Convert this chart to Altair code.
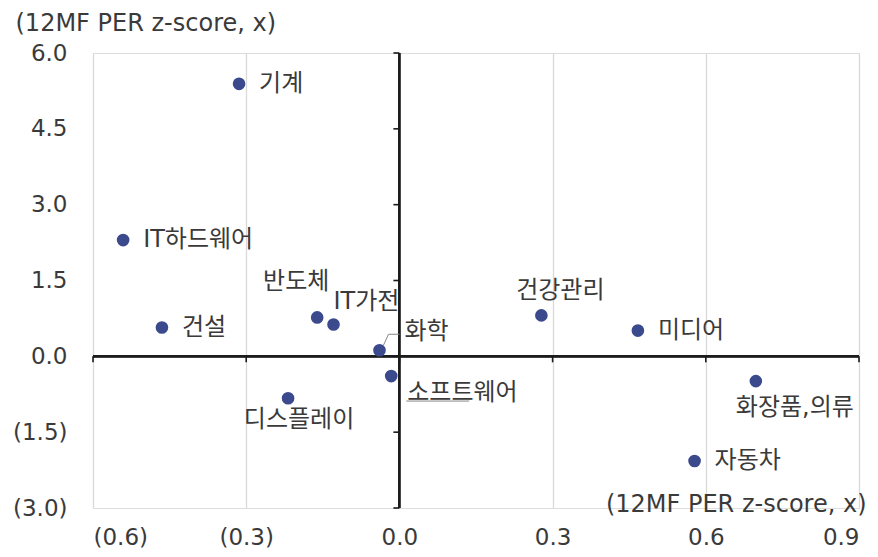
import altair as alt
import pandas as pd

# Data
sectors = ["기계", "IT하드웨어", "건설", "반도체", "IT가전", "화학", "소프트웨어",
           "디스플레이", "건강관리", "미디어", "화장품,의류", "자동차"]
x_vals = [-0.314, -0.541, -0.465, -0.161, -0.129, -0.039, -0.016,
          -0.218, 0.278, 0.467, 0.698, 0.578]
y_vals = [5.39, 2.30, 0.57, 0.77, 0.63, 0.12, -0.39,
          -0.83, 0.81, 0.51, -0.49, -2.07]

x_ticks = [-0.6, -0.3, 0.0, 0.3, 0.6, 0.9]
y_ticks = [-3.0, -1.5, 0.0, 1.5, 3.0, 4.5, 6.0]
axis_title = "(12MF PER z-score, x)"

# label placement (pixel offsets from the point)
label_dx = [20, 20, 20, -21, 0, 25, 16, 11, 19, 20, 39, 20]
label_dy = [0, 0, 0, -35, -22, -18, 17, 22, -24, 0, 27, 0]
label_align = ["left", "left", "left", "center", "left", "left", "left",
               "center", "center", "left", "center", "left"]

df = pd.DataFrame({"sector": sectors, "x": x_vals, "y": y_vals})
xt = pd.DataFrame({"v": x_ticks})
yt = pd.DataFrame({"v": y_ticks})

FONT = "DejaVu Sans, Noto Sans CJK KR, sans-serif"
FS = 23
TXT = "#3a3a3a"
PT = "#3b4a8c"

xscale = alt.Scale(domain=[x_ticks[0], x_ticks[-1]], nice=False, zero=False)
yscale = alt.Scale(domain=[y_ticks[0], y_ticks[-1]], nice=False, zero=False)

fmt = "datum.value < 0 ? '(' + format(-datum.value, '.1f') + ')' : format(datum.value, '.1f')"

base = alt.Chart(df)

points = base.mark_point(filled=True, size=160, opacity=1, color=PT).encode(
    x=alt.X("x:Q", scale=xscale,
            axis=alt.Axis(values=x_ticks, labelExpr=fmt, grid=True, gridColor="#d9d9d9",
                          gridWidth=1.3, domain=False, ticks=False, tickSize=0,
                          labelPadding=18, labelFont=FONT, labelFontSize=FS,
                          labelColor=TXT, title=axis_title, titleFont=FONT,
                          titleFontSize=24, titleFontWeight="normal", titleColor=TXT,
                          titleAlign="right", titleBaseline="middle",
                          titleX=773, titleY=-4)),
    y=alt.Y("y:Q", scale=yscale,
            axis=alt.Axis(values=y_ticks, labelExpr=fmt, grid=False, domain=False,
                          ticks=False, tickSize=0, labelPadding=26, labelFont=FONT,
                          labelFontSize=FS, labelColor=TXT, title=axis_title,
                          titleFont=FONT, titleFontSize=24, titleFontWeight="normal",
                          titleColor=TXT, titleAngle=0, titleAlign="left",
                          titleBaseline="middle", titleX=-78, titleY=-30)),
)

hline = alt.Chart(xt).mark_rule(color="#1a1a1a", strokeWidth=1.6).encode(
    x=alt.datum(x_ticks[0]), x2=alt.datum(x_ticks[-1]), y=alt.datum(0.0))
vline = alt.Chart(yt).mark_rule(color="#1a1a1a", strokeWidth=1.6).encode(
    x=alt.datum(0.0), y=alt.datum(y_ticks[0]), y2=alt.datum(y_ticks[-1]))
xtick_marks = alt.Chart(xt).mark_rule(color="#1a1a1a", strokeWidth=1.6, y2Offset=6).encode(
    x="v:Q", y=alt.datum(0.0), y2=alt.datum(0.0))
ytick_marks = alt.Chart(yt).mark_rule(color="#1a1a1a", strokeWidth=1.6, x2Offset=-6).encode(
    y="v:Q", x=alt.datum(0.0), x2=alt.datum(0.0))

layers = [hline, vline, xtick_marks, ytick_marks]

# leader lines
leader1 = base.transform_filter(alt.datum.sector == "화학").mark_rule(
    color="#888888", strokeWidth=1, xOffset=4, yOffset=-5, x2Offset=9, y2Offset=-16).encode(
    x="x:Q", y="y:Q", x2="x:Q", y2="y:Q")
leader2 = base.transform_filter(alt.datum.sector == "화학").mark_rule(
    color="#888888", strokeWidth=1, xOffset=9, yOffset=-16, x2Offset=20, y2Offset=-16).encode(
    x="x:Q", y="y:Q", x2="x:Q", y2="y:Q")
leader3 = base.transform_filter(alt.datum.sector == "소프트웨어").mark_rule(
    color="#888888", strokeWidth=1, xOffset=15, yOffset=25, x2Offset=78, y2Offset=25).encode(
    x="x:Q", y="y:Q", x2="x:Q", y2="y:Q")
layers += [leader1, leader2, leader3, points]

for name, dx, dy, al in zip(sectors, label_dx, label_dy, label_align):
    t = base.transform_filter(alt.datum.sector == name).mark_text(
        font=FONT, fontSize=24, color=TXT, align=al, baseline="middle", dx=dx, dy=dy).encode(
        x="x:Q", y="y:Q", text="sector:N")
    layers.append(t)

chart = alt.layer(*layers).properties(
    width=766, height=455,
    autosize=alt.AutoSizeParams(type="none"),
    padding={"left": 85, "top": 45, "right": 11, "bottom": 41},
).configure_view(stroke=None).configure(background="white")

chart.save("out.html", embed_options={"renderer": "svg", "actions": False})
